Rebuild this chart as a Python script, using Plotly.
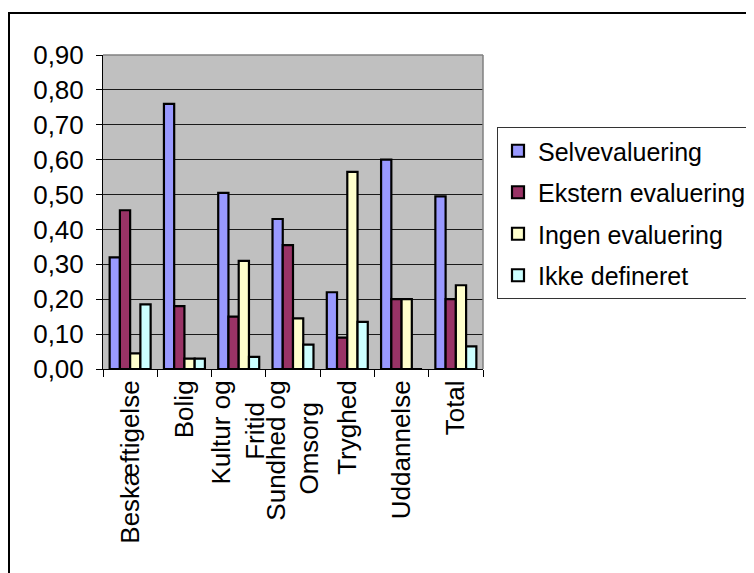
import plotly.graph_objects as go

NB = "\u00a0"
categories = ["Beskæftigelse", "Bolig", "Kultur og<br>Fritid" + NB * 3,
              "Sundhed og<br>Omsorg" + NB * 3, "Tryghed", "Uddannelse", "Total"]
selvevaluering = [0.32, 0.76, 0.505, 0.43, 0.22, 0.60, 0.495]
ekstern_evaluering = [0.455, 0.18, 0.15, 0.355, 0.09, 0.20, 0.20]
ingen_evaluering = [0.045, 0.03, 0.31, 0.145, 0.565, 0.20, 0.24]
ikke_defineret = [0.185, 0.03, 0.035, 0.07, 0.135, 0.0, 0.065]
series_names = ["Selvevaluering", "Ekstern evaluering", "Ingen evaluering", "Ikke defineret"]
series_values = [selvevaluering, ekstern_evaluering, ingen_evaluering, ikke_defineret]
colors = ["#9999FF", "#993366", "#FFFFCC", "#CCFFFF"]
y_ticks = [0.0, 0.1, 0.2, 0.3, 0.4, 0.5, 0.6, 0.7, 0.8, 0.9]

W, H = 754, 573
OFF = 8  # page body margin
L, R, T, B = 103 - OFF, 483 - OFF, 55 - OFF, 369 - OFF

fig = go.Figure()
for name, vals, col in zip(series_names, series_values, colors):
    fig.add_trace(go.Bar(
        x=categories, y=vals, name=name, legendgroup=name,
        marker=dict(color=col, line=dict(color="black", width=2.2)),
    ))

font = dict(family="Liberation Sans, Arial", size=26, color="black")
legend_font = dict(family="Liberation Sans, Arial", size=25, color="black")

def px_x(p):
    return (p - OFF - L) / (R - L)

def px_y(p):
    return (B - (p - OFF)) / (B - T)

fig.update_layout(
    width=W, height=H,
    margin=dict(l=L, r=W - R, t=T, b=H - B, pad=0, autoexpand=False),
    paper_bgcolor="white", plot_bgcolor="#C0C0C0",
    font=font,
    separators=",.",
    barmode="group", bargap=0.245, bargroupgap=0,
    showlegend=True,
    legend=dict(
        x=px_x(497), y=px_y(127), xanchor="left", yanchor="top",
        bordercolor="#333333", borderwidth=1, bgcolor="white",
        font=legend_font, traceorder="grouped", tracegroupgap=6,
        itemwidth=30,
    ),
    xaxis=dict(
        showline=True, linecolor="black", linewidth=1,
        ticks="outside", ticklen=7, tickcolor="black", tickson="boundaries",
        tickangle=-90, showgrid=False, tickfont=font,
        ticklabelstandoff=0, automargin=False,
    ),
    yaxis=dict(
        range=[0, 0.9], tickvals=y_ticks, tickformat=".2f",
        showline=True, linecolor="black", linewidth=1,
        ticks="outside", ticklen=6, tickcolor="black",
        showgrid=True, gridcolor="#1a1a1a", gridwidth=1,
        zeroline=False, tickfont=font, ticklabelstandoff=7, automargin=False,
    ),
    shapes=[
        dict(type="line", xref="paper", yref="paper", x0=0, x1=1, y0=1, y1=1,
             line=dict(color="#808080", width=1.5), layer="above"),
        dict(type="line", xref="paper", yref="paper", x0=1, x1=1, y0=0, y1=1,
             line=dict(color="#808080", width=1.5), layer="above"),
        dict(type="rect", xref="paper", yref="paper",
             x0=px_x(9), x1=px_x(790), y0=px_y(13), y1=px_y(600),
             line=dict(color="black", width=2), fillcolor="rgba(0,0,0,0)", layer="above"),
    ],
)

fig.write_html("out.html")
